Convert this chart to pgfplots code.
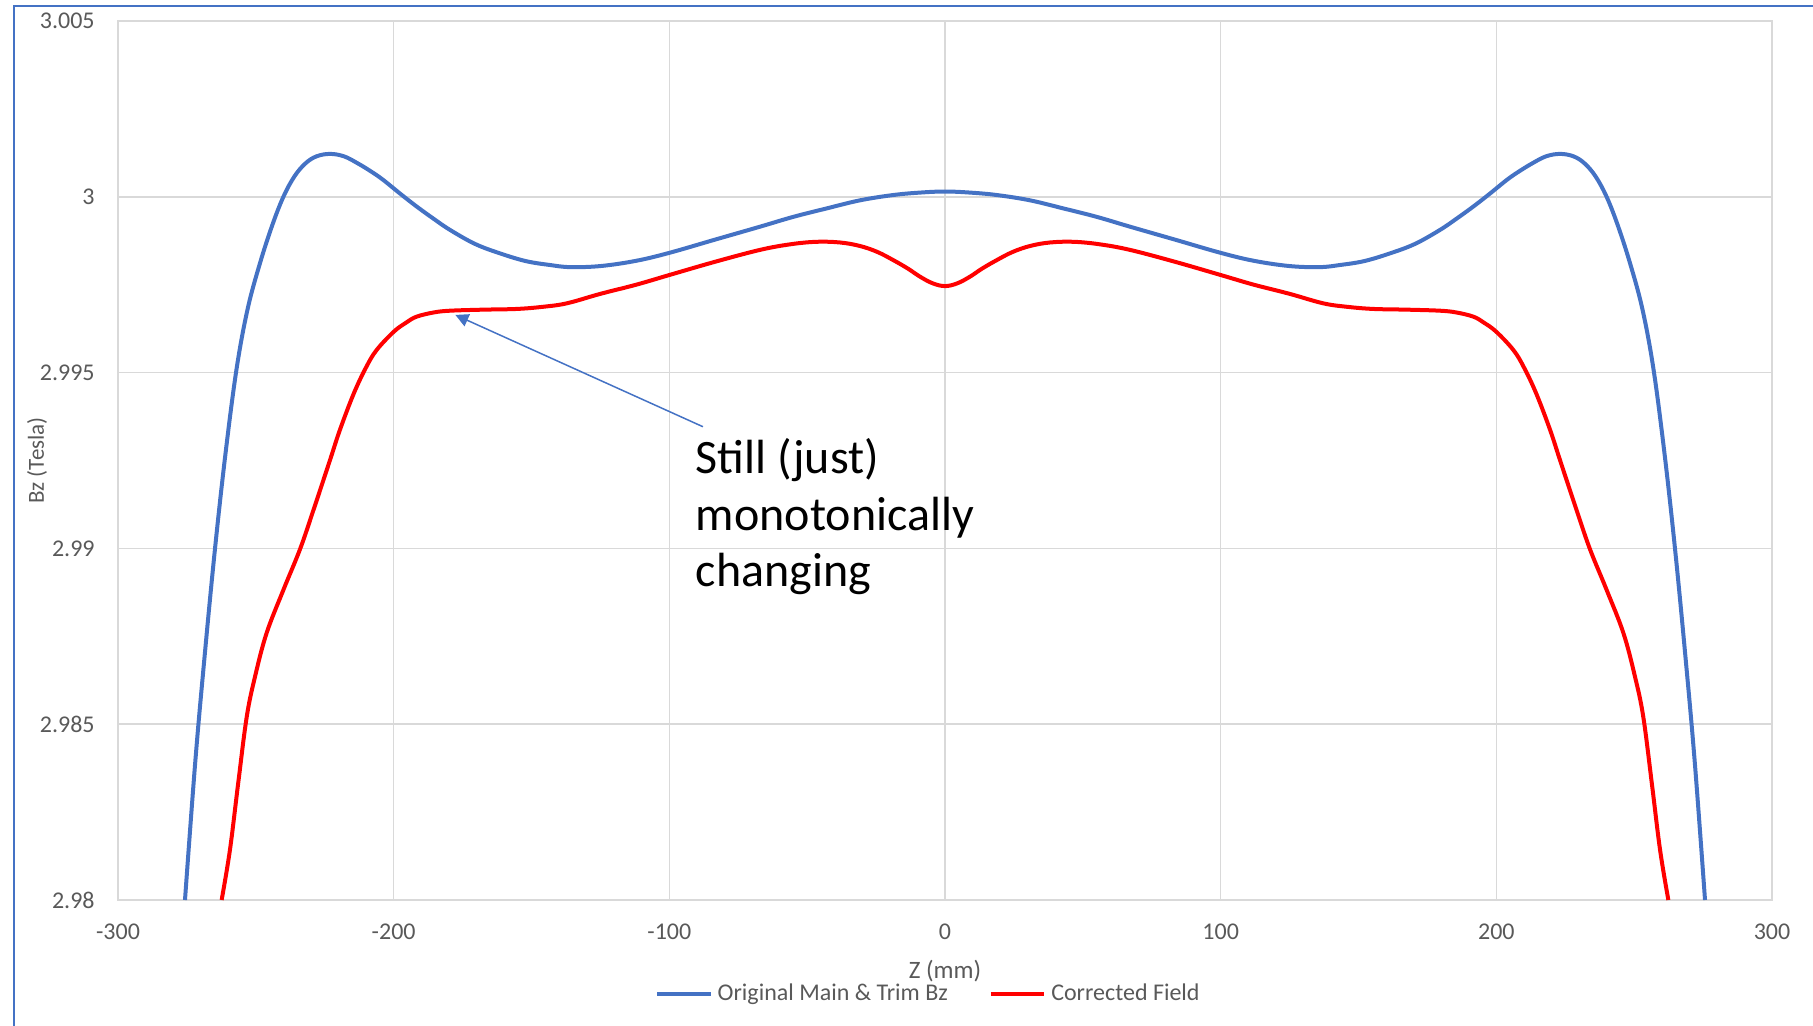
\documentclass[border=0pt]{standalone}
\usepackage{fontspec}
\setmainfont{Carlito}
\usepackage{pgfplots}
\pgfplotsset{compat=1.18}
\usetikzlibrary{arrows.meta}
\definecolor{xlblue}{HTML}{4472C4}
\definecolor{xlred}{HTML}{FF0000}
\definecolor{gridgray}{HTML}{D9D9D9}
\definecolor{txtgray}{HTML}{595959}
\begin{document}
\begin{tikzpicture}
\path[use as bounding box] (-59bp,-63bp) rectangle (847.5bp,450bp);
\draw[xlblue, line width=0.75bp] (-52bp,-63bp) -- (-52bp,447bp) -- (847.5bp,447bp);
\begin{axis}[
  scale only axis,
  width=827bp, height=439.5bp,
  xmin=-300, xmax=300, ymin=2.98, ymax=3.005,
  xtick={-300,-200,-100,0,100,200,300},
  xticklabels={-300,-200,-100,0,100,200,300},
  ytick={2.98,2.985,2.99,2.995,3,3.005},
  yticklabels={2.98,2.985,2.99,2.995,3,3.005},
  grid=major,
  major grid style={draw=gridgray, line width=0.75bp},
  axis line style={draw=gridgray, line width=0.75bp},
  tick style={draw=none},
  yticklabel style={anchor=east, inner sep=0pt, xshift=-11.5bp, text=txtgray, font=\fontsize{12bp}{14bp}\selectfont},
  xticklabel style={anchor=center, inner sep=0pt, yshift=-16bp, text=txtgray, font=\fontsize{12bp}{14bp}\selectfont},
  xlabel={Z (mm)},
  ylabel={Bz (Tesla)},
  every axis x label/.style={at={(axis description cs:0.5,-0.0805)}, anchor=center, inner sep=0pt, text=txtgray, font=\fontsize{12.5bp}{15bp}\selectfont},
  every axis y label/.style={at={(axis description cs:-0.049,0.5)}, rotate=90, anchor=center, inner sep=0pt, text=txtgray, font=\fontsize{11.5bp}{14bp}\selectfont},
  legend columns=2,
  legend style={at={(axis description cs:0.4894,-0.1065)}, anchor=center, draw=none, fill=none,
    nodes={inner sep=0pt, text=txtgray, font=\fontsize{12bp}{14bp}\selectfont},
    column sep=2.5bp, /tikz/every even column/.append style={column sep=20.5bp}},
  legend image code/.code={\draw[#1, line width=2bp] (0bp,0bp) -- (26.7bp,0bp);},
  legend cell align=left,
]
\addplot[xlblue, line width=2bp, smooth, tension=0.6] coordinates {
(-275.7,2.98000) (-272.0,2.98390) (-268.5,2.98700) (-264.8,2.99000) (-261.0,2.99270)
(-257.0,2.99510) (-253.0,2.99680) (-248.5,2.99811) (-244.0,2.99920) (-240.0,3.00000)
(-236.0,3.00058) (-232.0,3.00095) (-228.0,3.00115) (-223.1,3.00122) (-218.0,3.00115)
(-213.0,3.00095) (-208.0,3.00071) (-203.8,3.00048) (-197.5,3.00008) (-191.6,2.99972)
(-185.6,2.99938) (-179.6,2.99906)
(-170.5,2.99866) (-161.4,2.99839) (-152.0,2.99817) (-143.3,2.99806) (-136.0,2.99800)
(-125.0,2.99803) (-112.0,2.99818) (-99.8,2.99841) (-83.5,2.99878)
(-67.1,2.99915) (-55.0,2.99943) (-42.9,2.99967) (-30.8,2.99990) (-18.8,3.00005) (-9.0,3.00012) (0,3.00015)
(9.0,3.00012) (18.8,3.00005) (30.8,2.99990) (42.9,2.99967) (55.0,2.99943) (67.1,2.99915)
(83.5,2.99878) (99.8,2.99841) (112.0,2.99818) (125.0,2.99803)
(136.0,2.99800) (143.3,2.99806) (152.0,2.99817) (161.4,2.99839) (170.5,2.99866)
(179.6,2.99906) (185.6,2.99938) (191.6,2.99972) (197.5,3.00008) (203.8,3.00048)
(208.0,3.00071) (213.0,3.00095) (218.0,3.00115) (223.1,3.00122) (228.0,3.00115)
(232.0,3.00095) (236.0,3.00058) (240.0,3.00000) (244.0,2.99920) (248.5,2.99811)
(253.0,2.99680) (257.0,2.99510) (261.0,2.99270) (264.8,2.99000) (268.5,2.98700)
(272.0,2.98390) (275.7,2.98000)
};
\addlegendentry{Original Main \& Trim Bz}
\addplot[xlred, line width=2bp, smooth, tension=0.6] coordinates {
(-262.4,2.98000) (-259.4,2.98142) (-256.4,2.98332) (-253.3,2.98521) (-250.3,2.98635)
(-246.1,2.98759) (-240.0,2.98882) (-234.0,2.98997) (-229.1,2.99109) (-223.1,2.99251)
(-219.5,2.99337) (-214.5,2.99440) (-210.0,2.99515) (-206.2,2.99564) (-200.0,2.99616)
(-195.5,2.99642) (-191.7,2.99659) (-185.5,2.99671) (-179.6,2.99676) (-167.5,2.99679)
(-155.4,2.99681) (-146.0,2.99687) (-137.2,2.99697) (-125.0,2.99724) (-112.0,2.99750) (-99.8,2.99778)
(-83.5,2.99815) (-67.1,2.99849) (-56.0,2.99865) (-46.6,2.99872) (-38.0,2.99870) (-30.8,2.99860) (-24.5,2.99843) (-18.8,2.99820)
(-13.5,2.99796) (-9.1,2.99773) (-4.5,2.99754) (0,2.99746)
(4.5,2.99754) (9.1,2.99773) (13.5,2.99796)
(18.8,2.99820) (24.5,2.99843) (30.8,2.99860) (38.0,2.99870) (46.6,2.99872) (56.0,2.99865) (67.1,2.99849) (83.5,2.99815)
(99.8,2.99778) (112.0,2.99750) (125.0,2.99724) (137.2,2.99697) (146.0,2.99687) (155.4,2.99681)
(167.5,2.99679) (179.6,2.99676) (185.5,2.99671) (191.7,2.99659) (195.5,2.99642)
(200.0,2.99616) (206.2,2.99564) (210.0,2.99515) (214.5,2.99440) (219.5,2.99337)
(223.1,2.99251) (229.1,2.99109) (234.0,2.98997) (240.0,2.98882) (246.1,2.98759)
(250.3,2.98635) (253.3,2.98521) (256.4,2.98332) (259.4,2.98142) (262.4,2.98000)
};
\addlegendentry{Corrected Field}
\draw[xlblue, line width=0.75bp, -{Triangle[length=6.5bp, width=6.5bp]}] (axis cs:-87.8,2.99346) -- (axis cs:-177.6,2.99664);
\node[anchor=base west, inner sep=0pt, font=\fontsize{24bp}{28bp}\selectfont] at (axis cs:-90.5,2.99212) {Still (just)};
\node[anchor=base west, inner sep=0pt, font=\fontsize{24bp}{28bp}\selectfont] at (axis cs:-90.5,2.99050) {monotonically};
\node[anchor=base west, inner sep=0pt, font=\fontsize{24bp}{28bp}\selectfont] at (axis cs:-90.5,2.98891) {changing};
\end{axis}
\end{tikzpicture}
\end{document}
